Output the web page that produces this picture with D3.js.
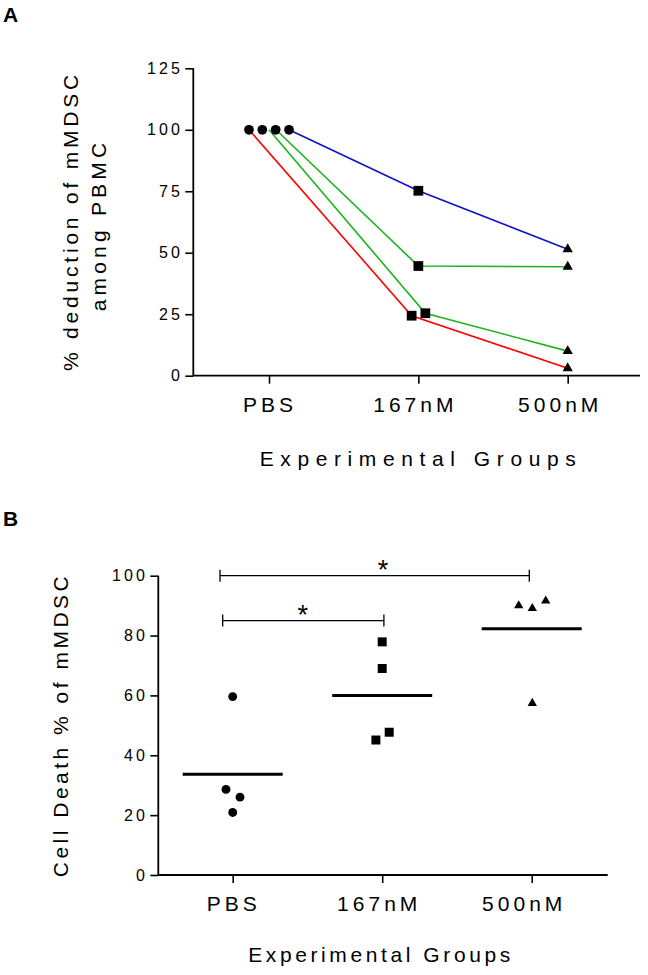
<!DOCTYPE html>
<html><head><meta charset="utf-8">
<script src="https://cdn.jsdelivr.net/npm/d3@7"></script>
<style>
html,body{margin:0;padding:0;background:#fff;}
svg{display:block;}
text{font-family:"Liberation Sans", Arial, sans-serif; fill:#000;}
</style></head><body>
<svg id="chart" width="648" height="975"></svg>
<script>
// ---------------- DATA ----------------
const groups = ["PBS", "167nM", "500nM"];

// Panel A: each donor's % deduction at PBS, 167nM, 500nM
const aRed    = [100, 24.4, 3.0];
const aGreen1 = [100, 25.4, 10.0];
const aGreen2 = [100, 44.6, 44.3];
const aBlue   = [100, 75.2, 51.4];
const aYTicks = [0, 25, 50, 75, 100, 125];
const aYLabel = ["% deduction of mMDSC", "among PBMC"];

// Panel B: cell death % per group, with group means
const bPBS   = [59.6, 28.6, 26.0, 20.9];
const b167   = [77.9, 69.0, 45.1, 47.7];
const b500   = [90.0, 89.1, 91.6, 57.4];
const bMeans = [33.7, 60.0, 82.3];
const bYTicks = [0, 20, 40, 60, 80, 100];
const bYLabel = "Cell Death % of mMDSC";
const bSig = [["PBS", "500nM", 100, "*"], ["PBS", "167nM", 85, "*"]];

const xTitle = "Experimental Groups";

// ---------------- LAYOUT / STYLE ----------------
const svg = d3.select("#chart");
const FONT = '"Liberation Sans", Arial, sans-serif';
const xTickDx = [0.5, -3.5, -8];   // label nudges seen in the reference

function drawAxes(box, x, y, yTicks) {
  const g = svg.append("g");
  const gy = g.append("g").attr("transform", `translate(${box.left},0)`)
    .call(d3.axisLeft(y).tickValues(yTicks).tickSize(8).tickPadding(2.5));
  gy.select(".domain").remove();
  gy.selectAll(".tick line").attr("stroke", "#000").attr("stroke-width", 1.6);
  gy.selectAll(".tick text").attr("font-size", 16).attr("font-family", FONT)
    .style("letter-spacing", "3px").attr("fill", "#000");

  const gx = g.append("g").attr("transform", `translate(0,${box.bottom})`)
    .call(d3.axisBottom(x).tickSize(8).tickPadding(13));
  gx.select(".domain").remove();
  gx.selectAll(".tick line").attr("stroke", "#000").attr("stroke-width", 1.6);
  gx.selectAll(".tick text").attr("font-size", 21).attr("font-family", FONT)
    .style("letter-spacing", "4px").attr("fill", "#000")
    .attr("dx", (d, i) => xTickDx[i]);

  g.append("path")
    .attr("d", `M${box.left},${box.top}V${box.bottom}H${box.right}`)
    .attr("fill", "none").attr("stroke", "#000").attr("stroke-width", 1.8);
}

// ---------------- PANEL A ----------------
const A = {left: 193.3, right: 640, top: 68.3, bottom: 375.7};
const xA = d3.scalePoint(groups, [269, 567.7]);
const yA = d3.scaleLinear([0, 125], [A.bottom, A.top]);

svg.append("text").text("A").attr("x", 3).attr("y", 22)
  .attr("font-size", 21).attr("font-weight", "bold");

drawAxes(A, xA, yA, aYTicks);

const aSeries = [
  {v: aRed,    color: "#ff0000", start: -20,  mid: -6.7},
  {v: aGreen1, color: "#1cb41c", start: 0,    mid: 7},
  {v: aGreen2, color: "#1cb41c", start: 7,    mid: 0},
  {v: aBlue,   color: "#1010c8", start: 20,   mid: 0}
];
const pbsJitter = [-20, -6.7, 6.7, 20];

const lineGen = d3.line().x(d => d[0]).y(d => d[1]);
aSeries.forEach(s => {
  const pts = [
    [xA(groups[0]) + s.start, yA(s.v[0])],
    [xA(groups[1]) + s.mid, yA(s.v[1])],
    [xA(groups[2]), yA(s.v[2])]
  ];
  svg.append("path").attr("d", lineGen(pts)).attr("fill", "none")
    .attr("stroke", s.color).attr("stroke-width", 1.6);
});
aSeries.forEach((s, i) => {
  svg.append("path").attr("d", d3.symbol(d3.symbolCircle, 74)())
    .attr("transform", `translate(${xA(groups[0]) + pbsJitter[i]},${yA(s.v[0])})`);
  svg.append("path").attr("d", d3.symbol(d3.symbolSquare, 95)())
    .attr("transform", `translate(${xA(groups[1]) + s.mid},${yA(s.v[1])})`);
  svg.append("path").attr("d", d3.symbol(d3.symbolTriangle, 46)())
    .attr("transform", `translate(${xA(groups[2])},${yA(s.v[2])})`);
});

// y title (two lines)
svg.append("text").attr("transform", "translate(78,221) rotate(-90)")
  .attr("text-anchor", "middle").attr("font-size", 21).style("letter-spacing", "3.8px")
  .text(aYLabel[0]);
svg.append("text").attr("transform", "translate(106,225) rotate(-90)")
  .attr("text-anchor", "middle").attr("font-size", 21).style("letter-spacing", "4.2px")
  .text(aYLabel[1]);
svg.append("text").attr("x", 421).attr("y", 466)
  .attr("text-anchor", "middle").attr("font-size", 21).style("letter-spacing", "6.6px")
  .text(xTitle);

// ---------------- PANEL B ----------------
const B = {left: 158.3, right: 607.7, top: 575.7, bottom: 875};
const xB = d3.scalePoint(groups, [232.7, 531.7]);
const yB = d3.scaleLinear([0, 100], [B.bottom, B.top]);

svg.append("text").text("B").attr("x", 3).attr("y", 526)
  .attr("font-size", 21).attr("font-weight", "bold");

drawAxes(B, xB, yB, bYTicks);

const bGroups = [
  {v: bPBS, sym: d3.symbolCircle,   size: 62, jit: [0, -6.7, 7.3, 0]},
  {v: b167, sym: d3.symbolSquare,   size: 81, jit: [0, 0, -6.3, 7]},
  {v: b500, sym: d3.symbolTriangle, size: 38, jit: [-13, 0.6, 14, 0.6]}
];
bGroups.forEach((grp, gi) => {
  const cx = xB(groups[gi]);
  grp.v.forEach((val, k) => {
    svg.append("path").attr("d", d3.symbol(grp.sym, grp.size)())
      .attr("transform", `translate(${cx + grp.jit[k]},${yB(val)})`);
  });
  svg.append("line")
    .attr("x1", cx - 50).attr("x2", cx + 50)
    .attr("y1", yB(bMeans[gi])).attr("y2", yB(bMeans[gi]))
    .attr("stroke", "#000").attr("stroke-width", 3);
});

// significance brackets
const sigInset = [[-12.7, -2.4], [-10, 1.7]];
const starDx = [8.3, -0.6];
bSig.forEach((s, i) => {
  const x1 = xB(s[0]) + sigInset[i][0], x2 = xB(s[1]) + sigInset[i][1];
  const yy = yB(s[2]);
  svg.append("path")
    .attr("d", `M${x1},${yy - 6}V${yy + 6}M${x1},${yy}H${x2}M${x2},${yy - 6}V${yy + 6}`)
    .attr("fill", "none").attr("stroke", "#000").attr("stroke-width", 1.3);
  svg.append("text").attr("x", (x1 + x2) / 2 + starDx[i]).attr("y", yy + 3)
    .attr("text-anchor", "middle").attr("font-size", 27).text(s[3]);
});

svg.append("text").attr("transform", "translate(68,725) rotate(-90)")
  .attr("text-anchor", "middle").attr("font-size", 21).style("letter-spacing", "3.5px")
  .text(bYLabel);
svg.append("text").attr("x", 381).attr("y", 962)
  .attr("text-anchor", "middle").attr("font-size", 21).style("letter-spacing", "3.6px")
  .text(xTitle);
</script>
</body></html>
